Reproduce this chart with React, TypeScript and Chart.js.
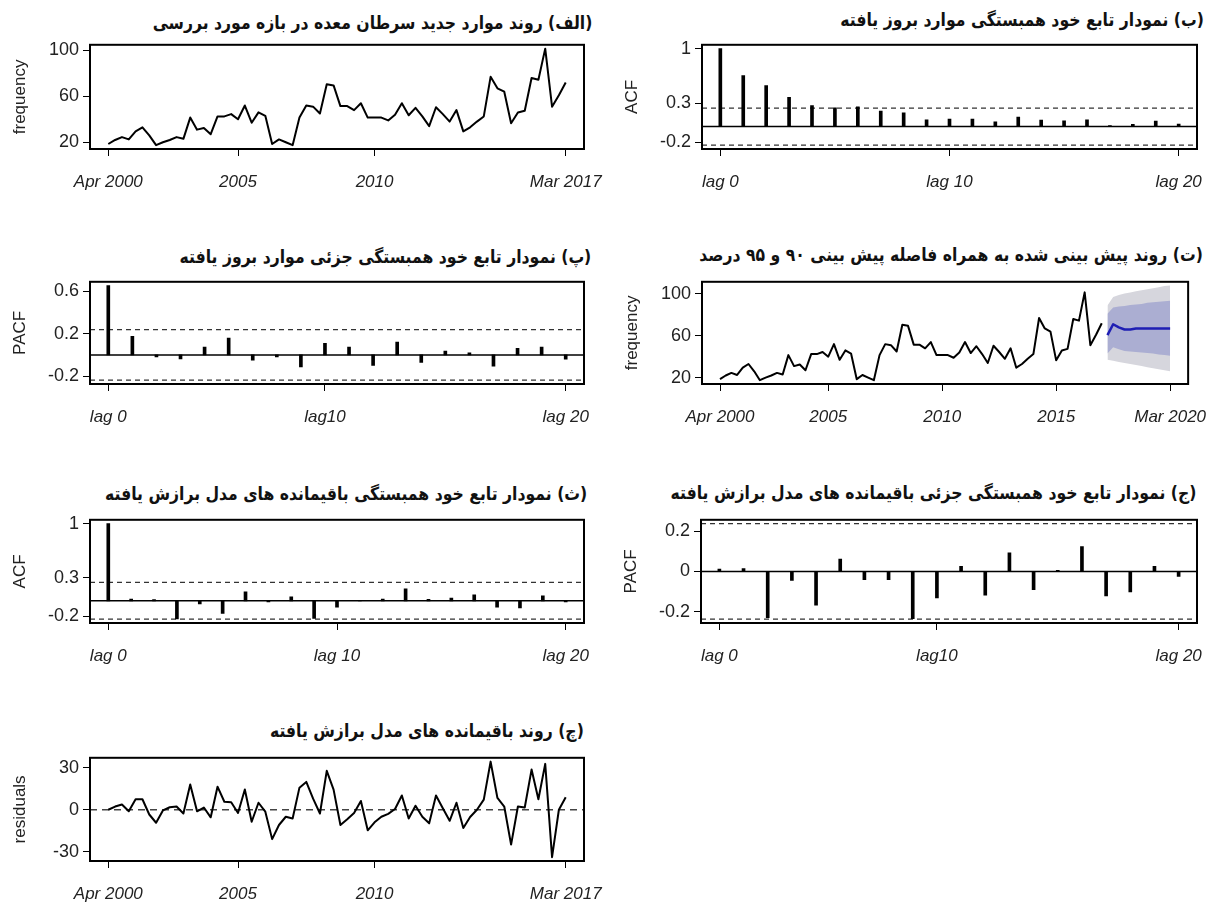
import React, { useEffect, useRef } from "react";
import { Chart, registerables } from "chart.js";

Chart.register(...registerables);

// ---------------- DATA ----------------
const START_TIME = 2000.25; // Apr 2000 (quarterly series)
const QUARTER = 0.25;

const frequency = [
  18.5, 22, 24.5,
  22.5, 29.5, 33, 26,
  17.5, 20, 22, 24.5,
  23, 41.5, 31, 32.5,
  27, 42.5, 42.5, 44.5,
  40, 52, 37, 46,
  43, 18.5, 22.5, 20,
  17.5, 41.5, 52, 51,
  45, 70.5, 69.5, 51.5,
  51.5, 48, 54, 41.5,
  41.5, 41.5, 39, 44,
  54, 43.5, 50, 42.5,
  34, 50.5, 44.5, 38,
  48, 29.5, 33, 38,
  42.5, 77, 67, 64,
  36.5, 46, 47.5, 76,
  74.5, 101.5, 51, 61,
  72,
];

const residuals = [
  0, 2.3, 3.8,
  -1.1, 7.5, 7.5, -3.4,
  -9.3, -0.5, 1.8, 2.3,
  -2.7, 18.1, -1.1, 1.6,
  -5.4, 16.5, 5.7, 5.4,
  -2.3, 14.5, -8.6, 5,
  -1.4, -21, -10.9, -5,
  -6.3, 15.8, 19.9, 7.9,
  -2.7, 27.8, 14.4, -10.9,
  -6.8, -2.3, 6.3, -14.7,
  -9, -5, -2.9, 0.5,
  10.2, -6.3, 2.9, -5,
  -9.7, 10.2, 1.1, -7.9,
  5, -13.1, -5.2, 0,
  7.2, 34.4, 8.4, 2.3,
  -24.9, 2.3, 1.6, 28.7,
  7.5, 32.8, -33.9, 0,
  9,
];

const forecastStart = 2017.25;
const forecastMean = [60.6, 71, 68, 66, 66, 67, 67, 67, 67, 67, 67, 67];
const forecastHiDark = [81, 87, 88, 88.5, 89.5, 90, 90.5, 91.5, 92, 92.5, 93, 93.5];
const forecastLoDark = [43, 49, 47, 45.5, 45, 44.5, 44, 43.5, 43, 42, 41.5, 41];
const forecastHiLight = [89, 97, 99, 100.5, 101.5, 102.5, 103.5, 104.5, 105.5, 106.5, 107.5, 108];
const forecastLoLight = [37, 36, 35, 34, 33, 32, 31, 30, 29, 28, 27, 26];

const acfLags = [0, 1, 2, 3, 4, 5, 6, 7, 8, 9, 10, 11, 12, 13, 14, 15, 16, 17, 18, 19, 20];
const pacfLags = [1, 2, 3, 4, 5, 6, 7, 8, 9, 10, 11, 12, 13, 14, 15, 16, 17, 18, 19, 20];

const acfValues = [1, 0.656, 0.525, 0.377, 0.27, 0.242, 0.254, 0.2, 0.176, 0.086, 0.098, 0.098, 0.061, 0.123, 0.082, 0.074, 0.086, 0.012, 0.029, 0.07, 0.033];
const pacfValues = [0.651, 0.175, -0.02, -0.038, 0.073, 0.158, -0.05, -0.02, -0.114, 0.108, 0.073, -0.099, 0.12, -0.07, 0.035, 0.02, -0.105, 0.061, 0.073, -0.041];
const resAcfValues = [1, 0.024, 0.016, -0.235, -0.04, -0.162, 0.117, -0.016, 0.053, -0.227, -0.081, 0.004, 0.024, 0.154, 0.02, 0.036, 0.077, -0.081, -0.093, 0.065, -0.016];
const resPacfValues = [0.011, 0.014, -0.231, -0.045, -0.168, 0.061, -0.041, -0.041, -0.235, -0.132, 0.025, -0.118, 0.093, -0.091, 0.005, 0.124, -0.122, -0.102, 0.025, -0.025];
const confidenceLimit = 0.238;

const tsTickValues = [2000.25, 2005, 2010, 2017];
const tsTickLabels = ["Apr 2000", "2005", "2010", "Mar 2017"];
const fcTickValues = [2000.25, 2005, 2010, 2015, 2020];
const fcTickLabels = ["Apr 2000", "2005", "2010", "2015", "Mar 2020"];
const acfTickValues = [0, 10, 20];
const acfTickLabels = ["lag 0", "lag 10", "lag 20"];
const pacfTickValues = [1, 10, 20];
const pacfTickLabels = ["lag 0", "lag10", "lag 20"];

const freqYTicks = [20, 60, 100];
const acfYTicks = [-0.2, 0.3, 1];
const acfYLabels = ["-0.2", "0.3", "1"];
const pacfYTicks = [-0.2, 0.2, 0.6];
const pacfYLabels = ["-0.2", "0.2", "0.6"];
const resPacfYTicks = [-0.2, 0, 0.2];
const resPacfYLabels = ["-0.2", "0", "0.2"];
const residYTicks = [-30, 0, 30];

const titles = {
  a: "(الف) روند موارد جدید سرطان معده در بازه مورد بررسی",
  b: "(ب) نمودار تابع خود همبستگی موارد بروز یافته",
  p: "(پ) نمودار تابع خود همبستگی جزئی موارد بروز یافته",
  t: "(ت) روند پیش بینی شده به همراه فاصله پیش بینی ۹۰ و ۹۵ درصد",
  s: "(ث) نمودار تابع خود همبستگی باقیمانده های مدل برازش یافته",
  j: "(ج) نمودار تابع خود همبستگی جزئی باقیمانده های مدل برازش یافته",
  ch: "(چ) روند باقیمانده های مدل برازش یافته",
};

// ---------------- HELPERS ----------------
const FONT = "'Liberation Sans', Arial, sans-serif";
const TITLE_FONT = "'DejaVu Sans', sans-serif";
const Y_AXIS_W = 90;
const X_AXIS_H = 50;
const PAD_T = 8;

function rRange(values: number[]) {
  const mn = Math.min(...values);
  const mx = Math.max(...values);
  const e = (mx - mn) * 0.04;
  return [mn - e, mx + e];
}

function labelFor(v: number, vals: number[], labels: string[]) {
  for (let i = 0; i < vals.length; i++) {
    if (Math.abs(vals[i] - v) < 1e-6) return labels[i];
  }
  return "";
}

function axes(o: {
  xMin: number; xMax: number; xTicks: number[]; xLabels: string[];
  yMin: number; yMax: number; yTicks: number[]; yLabels: string[]; yTitle: string;
}) {
  const grid = { drawOnChartArea: false, drawTicks: true, tickLength: 7, color: "#000", lineWidth: 1, offset: false };
  return {
    x: {
      type: "linear", min: o.xMin, max: o.xMax, offset: false,
      afterBuildTicks: (s: any) => { s.ticks = o.xTicks.map((v) => ({ value: v })); },
      afterFit: (s: any) => { s.height = X_AXIS_H; },
      ticks: {
        autoSkip: false, maxRotation: 0, minRotation: 0, padding: 16, color: "#222",
        font: { family: FONT, size: 17, style: "italic" },
        callback: (v: number) => labelFor(v, o.xTicks, o.xLabels),
      },
      grid, border: { display: false },
    },
    y: {
      type: "linear", min: o.yMin, max: o.yMax,
      afterBuildTicks: (s: any) => { s.ticks = o.yTicks.map((v) => ({ value: v })); },
      afterFit: (s: any) => { s.width = Y_AXIS_W; },
      ticks: {
        padding: 4, color: "#222", font: { family: FONT, size: 18 },
        callback: (v: number) => labelFor(v, o.yTicks, o.yLabels),
      },
      grid, border: { display: false },
      title: { display: true, text: o.yTitle, color: "#222", font: { family: FONT, size: 17 }, padding: { top: 10, bottom: 0 } },
    },
  };
}

const decorPlugin = {
  id: "decor",
  beforeDatasetsDraw(chart: any, _a: any, opts: any) {
    const { ctx, chartArea: a, scales } = chart;
    (opts.lines || []).forEach((l: any) => {
      const py = scales.y.getPixelForValue(l.value);
      ctx.save();
      ctx.beginPath();
      ctx.setLineDash(l.dash || []);
      ctx.lineWidth = l.width;
      ctx.strokeStyle = l.color;
      ctx.moveTo(a.left, py);
      ctx.lineTo(a.right, py);
      ctx.stroke();
      ctx.restore();
    });
  },
  afterDatasetsDraw(chart: any) {
    const { ctx, chartArea: a } = chart;
    ctx.save();
    ctx.lineWidth = 2;
    ctx.strokeStyle = "#000";
    ctx.strokeRect(a.left, a.top, a.right - a.left, a.bottom - a.top);
    ctx.restore();
  },
};

function baseOptions(padR: number, scales: any, lines: any[]) {
  return {
    animation: false,
    responsive: false,
    maintainAspectRatio: false,
    devicePixelRatio: 1,
    layout: { padding: { top: PAD_T, right: padR, left: 0, bottom: 0 } },
    plugins: {
      legend: { display: false },
      tooltip: { enabled: false },
      title: { display: false },
      decor: { lines },
    },
    scales,
  };
}

const times = frequency.map((_, i) => START_TIME + i * QUARTER);
const fcTimes = forecastMean.map((_, i) => forecastStart + i * QUARTER);

function lineDs(xs: number[], ys: number[], color: string, width: number, extra: any = {}) {
  return {
    data: xs.map((x, i) => ({ x, y: ys[i] })),
    borderColor: color, borderWidth: width, pointRadius: 0, tension: 0,
    borderJoinStyle: "round", fill: false, ...extra,
  };
}

function barDs(lags: number[], vals: number[]) {
  return {
    data: lags.map((x, i) => ({ x, y: vals[i] })),
    backgroundColor: "#000", borderWidth: 0, barThickness: 3,
  };
}

const ciLines = [
  { value: 0, color: "#000", width: 1.5, dash: [] },
  { value: confidenceLimit, color: "#333", width: 1.2, dash: [5, 4] },
  { value: -confidenceLimit, color: "#333", width: 1.2, dash: [5, 4] },
];

function tsConfig(padR: number) {
  const [yMin, yMax] = rRange(frequency);
  const [xMin, xMax] = rRange([times[0], times[times.length - 1]]);
  return {
    type: "line",
    data: { datasets: [lineDs(times, frequency, "#000", 2)] },
    options: baseOptions(padR, axes({ xMin, xMax, xTicks: tsTickValues, xLabels: tsTickLabels, yMin, yMax, yTicks: freqYTicks, yLabels: freqYTicks.map(String), yTitle: "frequency" }), []),
    plugins: [decorPlugin],
  };
}

function residConfig(padR: number) {
  const [yMin, yMax] = rRange(residuals);
  const [xMin, xMax] = rRange([times[0], times[times.length - 1]]);
  return {
    type: "line",
    data: { datasets: [lineDs(times, residuals, "#000", 2)] },
    options: baseOptions(padR, axes({ xMin, xMax, xTicks: tsTickValues, xLabels: tsTickLabels, yMin, yMax, yTicks: residYTicks, yLabels: residYTicks.map(String), yTitle: "residuals" }),
      [{ value: 0, color: "#444", width: 1.5, dash: [7, 5] }]),
    plugins: [decorPlugin],
  };
}

function forecastConfig(padR: number) {
  const [yMin, yMax] = rRange([...frequency, ...forecastHiLight, ...forecastLoLight]);
  const [xMin, xMax] = rRange([times[0], fcTimes[fcTimes.length - 1]]);
  return {
    type: "line",
    data: {
      datasets: [
        lineDs(times, frequency, "#000", 2),
        lineDs(fcTimes, forecastMean, "#1e1eb4", 2.5),
        lineDs(fcTimes, forecastHiDark, "rgba(0,0,0,0)", 0, { fill: "+1", backgroundColor: "#abaed2" }),
        lineDs(fcTimes, forecastLoDark, "rgba(0,0,0,0)", 0),
        lineDs(fcTimes, forecastHiLight, "rgba(0,0,0,0)", 0, { fill: "+1", backgroundColor: "#d6d6dd" }),
        lineDs(fcTimes, forecastLoLight, "rgba(0,0,0,0)", 0),
      ],
    },
    options: baseOptions(padR, axes({ xMin, xMax, xTicks: fcTickValues, xLabels: fcTickLabels, yMin, yMax, yTicks: freqYTicks, yLabels: freqYTicks.map(String), yTitle: "frequency" }), []),
    plugins: [decorPlugin],
  };
}

function corrConfig(padR: number, lags: number[], vals: number[], xTicks: number[], xLabels: string[], yTicks: number[], yLabels: string[], yTitle: string) {
  const [yMin, yMax] = rRange([...vals, confidenceLimit, -confidenceLimit]);
  const [xMin, xMax] = rRange(lags);
  return {
    type: "bar",
    data: { datasets: [barDs(lags, vals)] },
    options: baseOptions(padR, axes({ xMin, xMax, xTicks, xLabels, yMin, yMax, yTicks, yLabels, yTitle }), ciLines),
    plugins: [decorPlugin],
  };
}

// ---------------- COMPONENTS ----------------
type PanelProps = { bx: number; by: number; bw: number; bh: number; padR: number; make: (padR: number) => any };

function Panel({ bx, by, bw, bh, padR, make }: PanelProps) {
  const ref = useRef<HTMLCanvasElement | null>(null);
  const w = Y_AXIS_W + bw + padR;
  const h = PAD_T + bh + X_AXIS_H;
  useEffect(() => {
    const chart = new Chart(ref.current as HTMLCanvasElement, make(padR));
    return () => chart.destroy();
  }, []);
  return (
    <canvas ref={ref} width={w} height={h}
      style={{ position: "absolute", left: bx - Y_AXIS_W, top: by - PAD_T, width: w, height: h }} />
  );
}

function Title({ text, right, cy }: { text: string; right: number; cy: number }) {
  return (
    <div dir="rtl" style={{
      position: "absolute", right: 1223 - right, top: cy - 13, height: 26, lineHeight: "26px",
      fontFamily: TITLE_FONT, fontWeight: "bold", fontSize: 18, color: "#111", whiteSpace: "nowrap",
      transform: "scaleX(0.87)", transformOrigin: "right center",
    }}>{text}</div>
  );
}

export default function App() {
  useEffect(() => {
    document.body.style.margin = "0";
    document.documentElement.style.overflow = "hidden";
  }, []);
  const C1 = { bx: 90, bw: 494, padR: 40 };
  const C2 = { bx: 702, bw: 495, padR: 26 };
  return (
    <div style={{ position: "absolute", left: 0, top: 0, width: 1223, height: 906, overflow: "hidden", background: "#fff" }}>
      <Title text={titles.a} right={592} cy={23} />
      <Title text={titles.b} right={1204} cy={20} />
      <Title text={titles.p} right={591} cy={257} />
      <Title text={titles.t} right={1203} cy={255} />
      <Title text={titles.s} right={587} cy={494} />
      <Title text={titles.j} right={1196} cy={493} />
      <Title text={titles.ch} right={584} cy={731} />

      <Panel {...C1} by={38} bh={111} make={tsConfig} />
      <Panel {...C2} by={38} bh={111}
        make={(p) => corrConfig(p, acfLags, acfValues, acfTickValues, acfTickLabels, acfYTicks, acfYLabels, "ACF")} />
      <Panel {...C1} by={275} bh={109}
        make={(p) => corrConfig(p, pacfLags, pacfValues, pacfTickValues, pacfTickLabels, pacfYTicks, pacfYLabels, "PACF")} />
      <Panel {...C2} by={275} bh={109} make={forecastConfig} />
      <Panel {...C1} by={513} bh={110}
        make={(p) => corrConfig(p, acfLags, resAcfValues, acfTickValues, acfTickLabels, acfYTicks, acfYLabels, "ACF")} />
      <Panel bx={701} bw={496} padR={26} by={513} bh={110}
        make={(p) => corrConfig(p, pacfLags, resPacfValues, pacfTickValues, pacfTickLabels, resPacfYTicks, resPacfYLabels, "PACF")} />
      <Panel {...C1} by={751} bh={110} make={residConfig} />
    </div>
  );
}
